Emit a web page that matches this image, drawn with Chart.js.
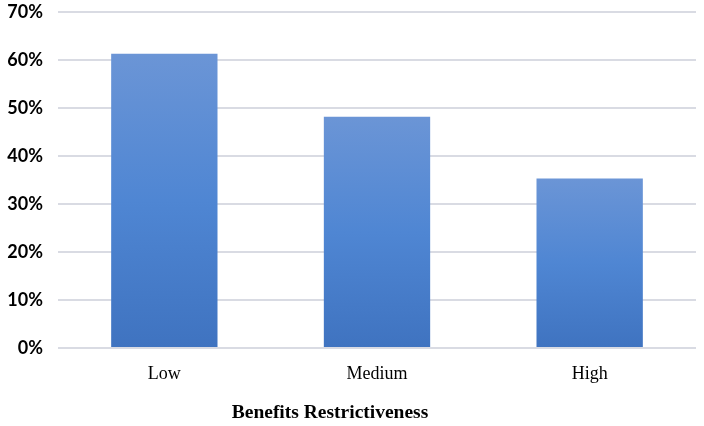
<!DOCTYPE html>
<html>
<head>
<meta charset="utf-8">
<script src="https://cdn.jsdelivr.net/npm/chart.js@4.4.1/dist/chart.umd.min.js"></script>
<style>
  html, body { margin: 0; padding: 0; background: #fff; }
  #wrap { width: 704px; height: 426px; }
</style>
</head>
<body>
<div id="wrap"><canvas id="chart"></canvas></div>
<script>
// ── data ──
const categories = ['Low', 'Medium', 'High'];
const shares     = [61.3, 48.2, 35.3];
const yTicks     = [0, 10, 20, 30, 40, 50, 60, 70];
const axisTitle  = 'Benefits Restrictiveness';

const GRID = '#d9dbe3';

// gradient per bar: lighter at the bar top, darker at the base
function barFill(ctx) {
  const chart = ctx.chart;
  const area = chart.chartArea;
  const y = chart.scales && chart.scales.y;
  if (!area || !y || ctx.raw == null) return '#5585cf';
  const top = y.getPixelForValue(ctx.raw);
  const g = chart.ctx.createLinearGradient(0, top, 0, area.bottom);
  g.addColorStop(0, '#6b95d6');
  g.addColorStop(0.5, '#4f86d3');
  g.addColorStop(1, '#3f73c0');
  return g;
}

// axis title drawn under the category labels, a little left of centre like the original
const bottomTitle = {
  id: 'bottomTitle',
  afterDraw(chart) {
    const { ctx, chartArea } = chart;
    ctx.save();
    ctx.font = 'bold 19.5px "Liberation Serif", serif';
    ctx.fillStyle = '#000';
    ctx.textAlign = 'center';
    ctx.textBaseline = 'middle';
    ctx.fillText(axisTitle, (chartArea.left + chartArea.right) / 2 - 47, chartArea.bottom + 65);
    ctx.restore();
  }
};

new Chart(document.getElementById('chart'), {
  type: 'bar',
  data: {
    labels: categories,
    datasets: [{ data: shares, backgroundColor: barFill, borderWidth: 0,
      categoryPercentage: 1, barPercentage: 0.5 }]
  },
  options: {
    responsive: true, maintainAspectRatio: false, animation: false,
    layout: { padding: { top: 0, right: 8, left: 0, bottom: 0 } },
    plugins: { legend: { display: false }, tooltip: { enabled: false } },
    scales: {
      x: {
        grid: { display: false },
        border: { display: false },
        ticks: { color: '#000', padding: 7, font: { family: '"Liberation Serif", serif', size: 18 } },
        afterFit: s => { s.height = 78; }
      },
      y: {
        min: 0, max: 70,
        afterBuildTicks: s => { s.ticks = yTicks.map(v => ({ value: v })); },
        grid: { color: GRID, lineWidth: 2, drawTicks: false },
        border: { display: false },
        ticks: { color: '#000', padding: 15, callback: v => v + '%',
          font: { family: 'Lato, sans-serif', size: 18, weight: 'bold' } },
        afterFit: s => { s.width = 58; s.paddingTop = 12; s.paddingBottom = 0; }
      }
    }
  },
  plugins: [bottomTitle]
});
</script>
</body>
</html>
